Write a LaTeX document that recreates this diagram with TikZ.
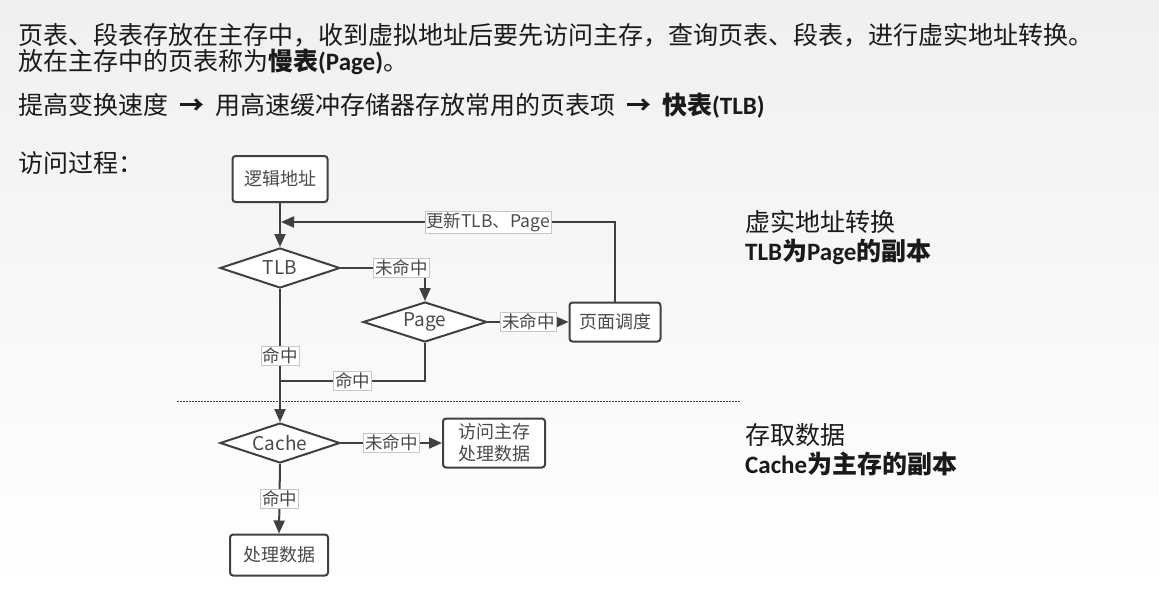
\documentclass[tikz,border=0pt]{standalone}
\usepackage{fontspec}
\setmainfont{Noto Sans CJK SC}
\newfontfamily\calib{Carlito}
\usepackage{xcolor}
\usetikzlibrary{positioning,shapes.geometric,arrows.meta}
\definecolor{linegray}{HTML}{404040}
\definecolor{flowtext}{HTML}{4A4A4A}
\definecolor{bodytext}{HTML}{1A1A1A}
\newcommand{\latb}[1]{{\calib\bfseries #1}}

\begin{document}
\begin{tikzpicture}[x=1pt, y=-1pt,
  boxnode/.style={draw=linegray, line width=2pt, rounded corners=3pt, fill=white, text=flowtext, align=center, inner sep=2pt, font=\fontsize{18}{22}\selectfont},
  decnode/.style={diamond, aspect=3, draw=linegray, line width=2pt, fill=white, text=flowtext, inner sep=0pt, minimum width=120pt, minimum height=40pt, font=\fontsize{19}{22}\selectfont},
  lblnode/.style={fill=white, draw=gray!45, line width=0.6pt, inner sep=1.5pt, text=flowtext, font=\fontsize{17.5}{20}\selectfont},
  bodynode/.style={anchor=west, inner sep=0pt, text=bodytext, font=\fontsize{25}{27}\selectfont},
  flow/.style={draw=linegray, line width=2pt, -{Triangle[length=13pt, width=11pt]}},
  link/.style={draw=linegray, line width=2pt},
  sepline/.style={draw=linegray, line width=1pt, dash pattern=on 1.5pt off 1.5pt}]

\shade[top color=gray!12, bottom color=white] (0,0) rectangle (1159,592);
\useasboundingbox (0,0) rectangle (1159,592);

\node[bodynode] (line1) at (18,35) {页表、段表存放在主存中，收到虚拟地址后要先访问主存，查询页表、段表，进行虚实地址转换。};
\node[bodynode] (line2) at (18,62) {放在主存中的页表称为\textbf{慢表}\latb{(Page)}。};
\node[bodynode] (line3) at (18,106) {提高变换速度\hspace{11pt}\textbf{→}\hspace{11pt}用高速缓冲存储器存放常用的页表项\hspace{11pt}\textbf{→}\hspace{11pt}\textbf{快表}\latb{(TLB)}};
\node[bodynode] (steps) at (18,163) {访问过程：};

\node[bodynode] (tlbnote) at (745,222) {虚实地址转换};
\node[bodynode] (tlbcopy) at (745,252) {\latb{TLB}\textbf{为}\latb{Page}\textbf{的副本}};
\node[bodynode] (cachenote) at (745,435) {存取数据};
\node[bodynode] (cachecopy) at (745,464) {\latb{Cache}\textbf{为主存的副本}};

\node[boxnode, minimum width=95pt, minimum height=46pt] (logic) at (280,179) {逻辑地址};
\node[decnode] (tlb) at (280,268) {TLB};
\node[decnode, minimum width=124pt] (page) at (425,322) {Page};
\node[boxnode, minimum width=91pt, minimum height=39pt] (sched) at (615,322) {页面调度};
\node[decnode] (cache) at (280,443) {Cache};
\node[boxnode, minimum width=102pt, minimum height=49pt] (mem) at (494,443) {访问主存\\处理数据};
\node[boxnode, minimum width=98pt, minimum height=41pt] (proc) at (279,555) {处理数据};

\coordinate (upd) at (281,222);
\coordinate (join) at (280,381);
\coordinate (sepL) at (177,401);
\coordinate (sepR) at (740,401);

\draw[flow] (logic) -- (tlb);
\draw[flow] (sched.north) |- node[lblnode, pos=0.69] {更新TLB、Page} (upd);
\draw[flow] (tlb.east) -| node[lblnode, pos=0.36] {未命中} (page.north);
\draw[flow] (page.east) -- node[lblnode] {未命中} (sched.west);
\draw[flow] (tlb.south) -- node[lblnode] {命中} (cache.north);
\draw[link] (page.south) |- node[lblnode, pos=0.75] {命中} (join);
\draw[flow] (cache.east) -- node[lblnode] {未命中} (mem.west);
\draw[flow] (cache.south) -- node[lblnode] {命中} (proc.north);

\draw[sepline] (sepL) -- (sepR);

\end{tikzpicture}
\end{document}
